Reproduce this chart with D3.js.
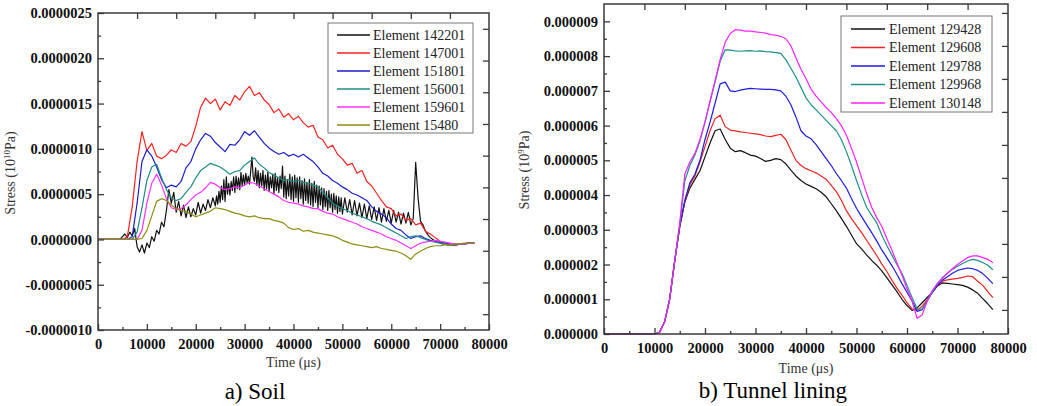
<!DOCTYPE html>
<meta charset="utf-8">
<style>
 body { margin: 0; background: #fff; }
 text { font-family: "Liberation Serif", "Times New Roman", serif; }
</style>
<body>
<svg></svg>
<script src="https://cdn.jsdelivr.net/npm/d3@7"></script>
<script>

// ---- DATA ---------------------------------------------------------------

// a) Soil : sample times (us) and stress in units of 1e-7 (x 10^10 Pa)
var soilTime = d3.range(0, 78000, 1000);        // 0 .. 77000
// black trace is sampled denser, finest in the noisy middle part
var soilTimeFine = d3.range(0, 24000, 500)
    .concat(d3.range(24000, 50000, 250))
    .concat(d3.range(50000, 77500, 500));

var soilNames = ["Element 142201", "Element 147001", "Element 151801",
                 "Element 156001", "Element 159601", "Element 15480"];

var soil142201 = [
  0,0,0,0,0,0,0,0,0,0,
  0.3,0.6,0.2,0.8,0.4,1.2,-0.8,-1.4,-0.6,-1.5,
  -0.4,-0.9,0.3,-0.2,1.0,0.6,1.9,1.4,3.2,5.5,
  4.0,5.2,3.0,4.2,2.6,3.8,2.4,3.6,2.5,3.4,
  2.7,4.1,2.9,3.9,3.2,4.4,3.5,4.6,
  // 24000 .. 49750 every 250
  3.7,4.8,3.9,5.3, 4.1,5.9,4.4,6.6, 4.2,6.9,5.0,6.2, 4.9,6.4,5.4,6.9,
  5.2,7.0,5.6,6.8, 5.5,7.4,5.9,7.1, 6.0,7.3,6.2,7.0, 6.1,7.6,9.1,6.9,
  6.4,7.9,6.0,7.6, 5.7,7.3,5.9,7.6, 5.4,7.1,5.6,7.4, 5.3,6.9,5.7,7.2,
  5.0,7.3,5.4,6.8, 5.2,7.0,5.6,8.1, 4.7,7.0,4.5,6.6, 4.8,7.2,4.4,6.9,
  4.2,7.1,4.6,6.8, 4.1,6.9,4.5,6.5, 3.9,6.7,4.3,6.3, 4.0,6.6,3.8,6.2,
  3.6,6.4,4.1,6.0, 3.5,5.9,3.8,5.7, 3.3,5.6,3.6,5.3, 3.2,5.4,3.5,5.0,
  3.0,5.1,3.3,4.8, 2.9,4.7,3.1,4.6,
  // 50000 .. 77000 every 500
  2.8,4.6,3.0,4.4,2.7,4.3,2.6,4.0,2.4,3.9,
  2.3,3.7,2.2,3.6,2.1,3.5,1.9,3.4,2.0,3.2,
  1.8,3.2,1.9,3.0,1.7,2.9,1.8,3.0,1.6,2.3,
  8.5,4.5,2.0,1.6,0.9,0.5,0.2,0.0,-0.2,-0.3,
  -0.4,-0.5,-0.5,-0.6,-0.6,-0.6,-0.6,-0.6,-0.5,-0.5,
  -0.5,-0.4,-0.4,-0.4,-0.4
];
var soil147001 = [
  0,0,0,0,0,0,0.3,3.6,8.6,11.9,
  9.8,10.6,9.2,8.9,9.3,9.9,9.6,10.6,10.3,10.8,
  12.5,14.6,15.6,15.0,15.5,14.3,15.2,14.8,15.9,15.4,
  16.3,16.9,15.9,16.2,15.4,14.9,14.0,14.4,13.5,13.9,
  13.2,13.6,12.9,12.4,12.6,11.3,11.0,10.1,10.4,9.4,
  8.9,8.2,8.4,7.3,7.6,6.4,5.9,5.1,4.3,3.6,
  3.4,2.6,2.8,2.1,2.3,1.6,1.8,0.9,0.6,0.2,
  -0.2,-0.4,-0.6,-0.6,-0.5,-0.5,-0.4,-0.4
];
var soil151801 = [
  0,0,0,0,0,0,0,0.3,4.0,8.6,
  9.9,9.2,8.0,6.6,5.7,6.0,5.8,6.4,7.9,8.6,
  10.0,11.0,11.7,11.4,10.7,10.2,9.7,10.5,10.4,11.0,
  11.9,11.5,12.0,11.3,10.6,10.1,9.7,9.4,9.6,9.2,
  9.4,9.1,9.4,9.0,8.6,8.0,7.3,7.0,6.5,6.2,
  5.8,5.5,5.1,4.9,4.6,4.3,3.6,3.1,2.8,2.4,
  1.7,1.2,1.0,0.5,0.1,0.3,0.4,0.1,-0.1,-0.2,
  -0.3,-0.4,-0.5,-0.6,-0.5,-0.5,-0.4,-0.4
];
var soil156001 = [
  0,0,0,0,0,0,0,0,0.8,3.5,
  6.5,8.0,8.3,6.8,5.5,4.6,4.3,4.5,5.2,5.8,
  6.8,7.6,8.0,8.4,8.2,8.0,7.6,7.2,7.5,7.6,
  8.2,8.6,9.0,8.3,7.9,7.4,7.1,6.8,6.5,6.6,
  6.4,6.5,6.3,6.2,6.0,5.8,5.2,4.6,4.0,3.7,
  3.4,3.2,2.9,2.7,2.5,2.3,2.0,1.8,1.6,1.3,
  1.0,0.7,0.4,0.1,0.3,0.4,0.2,0.0,-0.2,-0.3,
  -0.4,-0.5,-0.6,-0.6,-0.5,-0.5,-0.4,-0.4
];
var soil159601 = [
  0,0,0,0,0,0,0,0,0,1.0,
  4.0,6.2,7.2,6.0,4.5,3.5,3.3,3.4,3.8,4.4,
  4.9,5.2,5.7,6.3,6.1,5.7,5.5,5.6,5.8,5.7,
  6.0,6.3,6.2,5.9,5.6,5.3,5.0,4.7,4.3,4.1,
  4.0,3.9,3.7,3.6,3.4,3.4,3.1,2.9,2.8,2.5,
  2.3,2.1,1.9,1.7,1.4,1.2,1.0,0.8,0.6,0.3,
  0.1,-0.1,-0.4,-0.7,-1.0,-0.7,-0.4,-0.3,-0.2,-0.1,
  -0.2,-0.3,-0.4,-0.5,-0.5,-0.5,-0.4,-0.4
];
var soil15480 = [
  0,0,0,0,0,0,0,0,0,0.1,
  1.0,2.6,4.2,4.5,4.3,3.8,3.4,3.2,3.1,2.8,
  2.5,2.7,2.9,3.1,3.5,3.4,3.3,3.1,2.9,2.8,
  2.6,2.5,2.6,2.4,2.3,2.3,2.1,2.0,1.8,1.3,
  1.1,1.2,0.9,1.0,0.8,0.7,0.6,0.5,0.4,0.2,
  -0.1,-0.3,-0.5,-0.6,-0.7,-0.8,-0.9,-0.8,-1.0,-1.1,
  -1.2,-1.3,-1.5,-1.8,-2.2,-1.6,-1.3,-1.0,-0.8,-0.7,
  -0.7,-0.6,-0.6,-0.5,-0.5,-0.4,-0.4,-0.4
];

// b) Tunnel lining : stress in units of 1e-6 (x 10^9 Pa)
var liningTime = d3.range(0, 78000, 1000);

var liningNames = ["Element 129428", "Element 129608", "Element 129788",
                   "Element 129968", "Element 130148"];

var lining129428 = [
  0,0,0,0,0,0,0,0,0,0,
  0,0.05,0.35,1.0,2.1,3.1,3.8,4.2,4.45,4.7,
  5.1,5.5,5.85,5.9,5.6,5.35,5.25,5.28,5.22,5.15,
  5.12,5.05,4.97,5.0,5.05,5.02,4.9,4.72,4.55,4.42,
  4.32,4.25,4.18,4.08,3.95,3.75,3.55,3.33,3.1,2.85,
  2.6,2.45,2.28,2.12,1.98,1.82,1.62,1.42,1.22,1.0,
  0.82,0.68,0.75,0.9,1.05,1.2,1.38,1.47,1.46,1.44,
  1.42,1.4,1.35,1.27,1.17,1.02,0.87,0.7
];
var lining129608 = [
  0,0,0,0,0,0,0,0,0,0,
  0,0.05,0.35,1.0,2.1,3.1,3.8,4.3,4.55,4.95,
  5.4,5.85,6.2,6.3,5.97,5.87,5.85,5.82,5.8,5.78,
  5.76,5.74,5.7,5.68,5.72,5.75,5.6,5.3,5.0,4.85,
  4.76,4.7,4.64,4.55,4.45,4.28,4.1,3.85,3.55,3.32,
  3.12,2.92,2.7,2.48,2.26,2.02,1.8,1.55,1.32,1.12,
  0.9,0.72,0.68,0.8,0.98,1.2,1.4,1.52,1.56,1.58,
  1.6,1.63,1.67,1.65,1.52,1.4,1.22,1.05
];
var lining129788 = [
  0,0,0,0,0,0,0,0,0,0,
  0,0.05,0.35,1.0,2.1,3.1,3.85,4.35,4.6,5.0,
  5.6,6.1,6.65,7.2,7.25,7.0,6.98,7.02,7.05,7.07,
  7.06,7.05,7.04,7.04,7.03,7.0,6.85,6.6,6.25,5.85,
  5.7,5.62,5.45,5.25,5.05,4.85,4.62,4.42,4.2,3.9,
  3.62,3.38,3.15,2.92,2.68,2.42,2.2,1.97,1.72,1.45,
  1.2,0.95,0.65,0.7,0.95,1.2,1.4,1.55,1.65,1.75,
  1.83,1.87,1.9,1.88,1.83,1.74,1.6,1.45
];
var lining129968 = [
  0,0,0,0,0,0,0,0,0,0,
  0,0.05,0.35,1.0,2.1,3.15,4.4,4.85,5.15,5.55,
  6.1,6.7,7.25,7.85,8.18,8.17,8.15,8.14,8.15,8.16,
  8.14,8.15,8.13,8.12,8.1,8.08,7.9,7.65,7.4,7.1,
  6.8,6.6,6.45,6.3,6.15,6.0,5.85,5.6,5.25,4.85,
  4.42,4.02,3.65,3.42,3.2,2.85,2.55,2.27,2.0,1.75,
  1.4,1.05,0.72,0.72,0.95,1.2,1.45,1.62,1.75,1.86,
  1.95,2.03,2.1,2.15,2.12,2.06,1.98,1.85
];
var lining130148 = [
  0,0,0,0,0,0,0,0,0,0,
  0,0.05,0.35,1.0,2.1,3.2,4.6,4.95,5.2,5.6,
  6.1,6.7,7.3,7.9,8.4,8.65,8.76,8.75,8.72,8.72,
  8.7,8.68,8.66,8.62,8.6,8.57,8.5,8.3,7.95,7.62,
  7.35,7.05,6.85,6.68,6.52,6.38,6.2,6.0,5.72,5.35,
  4.95,4.5,4.05,3.65,3.35,3.1,2.75,2.42,2.05,1.7,
  1.3,0.95,0.45,0.55,0.95,1.25,1.45,1.6,1.75,1.88,
  2.0,2.1,2.2,2.25,2.25,2.2,2.15,2.05
];

// tick labels
var xTicks = [0, 10000, 20000, 30000, 40000, 50000, 60000, 70000, 80000];
var soilYTicks = [-10, -5, 0, 5, 10, 15, 20, 25];          // x 1e-7
var liningYTicks = [0, 1, 2, 3, 4, 5, 6, 7, 8, 9];          // x 1e-6


// ---- SETUP --------------------------------------------------------------

var width = 1037, height = 406;
var svg = d3.select("svg")
    .attr("width", width)
    .attr("height", height)
    .style("display", "block");

svg.append("rect").attr("width", width).attr("height", height).attr("fill", "#fff");

var colors6 = ["#111111", "#ff2020", "#1c1ccc", "#1f8c86", "#ff30ff", "#8c8c10"];
var colors5 = ["#111111", "#ee2222", "#1c1ce0", "#1f8f8a", "#ff20ff"];

function zip(t, v) {
  var n = Math.min(t.length, v.length), out = [];
  for (var i = 0; i < n; i++) out.push([t[i], v[i]]);
  return out;
}


// ---- DRAWING ------------------------------------------------------------

function drawPanel(p)
{
  var x = d3.scaleLinear().domain([0, 80000]).range([p.left, p.right]);
  var y = d3.scaleLinear().domain(p.yDomain).range([p.bottom, p.top]);
  // the opposite (top / right) axes carry their own unlabelled ticks
  var frac = d3.scaleLinear().domain([0, 1]).range([p.bottom, p.top]);

  var g = svg.append("g");

  // traces
  var line = d3.line().x(function(d){ return x(d[0]); }).y(function(d){ return y(d[1]); });
  p.series.forEach(function(s, i) {
    g.append("path")
     .attr("d", line(zip(s.t, s.v)))
     .attr("fill", "none")
     .attr("stroke", p.colors[i])
     .attr("stroke-width", 1.2)
     .attr("stroke-linejoin", "round");
  });

  var tickColor = "#3a3a3a";

  // bottom axis
  var xMinor = d3.range(5000, 80000, 10000);
  g.append("g").attr("transform", "translate(0," + p.bottom + ")")
   .call(d3.axisBottom(x).tickValues(xMinor).tickSize(-3).tickFormat(""));
  g.append("g").attr("transform", "translate(0," + p.bottom + ")")
   .call(d3.axisBottom(x).tickValues(xTicks).tickSize(-6).tickPadding(9)
         .tickFormat(d3.format("d")));

  // left axis
  g.append("g").attr("transform", "translate(" + p.left + ",0)")
   .call(d3.axisLeft(y).tickValues(p.yMinor).tickSize(-3).tickFormat(""));
  g.append("g").attr("transform", "translate(" + p.left + ",0)")
   .call(d3.axisLeft(y).tickValues(p.yTicks).tickSize(-6).tickPadding(6)
         .tickFormat(function(d){ return (d * p.unit).toFixed(p.dec); }));

  // top axis
  g.append("g").attr("transform", "translate(0," + p.top + ")")
   .call(d3.axisTop(x).tickValues(d3.range(8000, 80000, 8000)).tickSize(-6).tickFormat(""));

  // right axis
  g.append("g").attr("transform", "translate(" + p.right + ",0)")
   .call(d3.axisRight(frac).tickValues(d3.range(10).map(function(k){ return k / 10 + p.rightOffset; }))
         .tickSize(-6).tickFormat(""));

  g.selectAll(".domain").remove();
  g.selectAll(".tick line").attr("stroke", tickColor).attr("stroke-width", 1.3);
  g.selectAll(".tick text")
   .attr("font-family", "'Liberation Serif', 'Times New Roman', serif")
   .attr("font-size", "14.5px")
   .attr("font-weight", "bold")
   .attr("fill", "#111");

  // frame
  g.append("rect")
   .attr("x", p.left).attr("y", p.top)
   .attr("width", p.right - p.left).attr("height", p.bottom - p.top)
   .attr("fill", "none").attr("stroke", tickColor).attr("stroke-width", 1.5);

  // axis titles
  g.append("text")
   .attr("x", (p.left + p.right) / 2).attr("y", p.xTitleY)
   .attr("text-anchor", "middle").attr("font-size", "14px").attr("fill", "#333")
   .text("Time (\u03bcs)");

  var yt = g.append("text")
   .attr("transform", "translate(" + p.yTitleX + "," + p.yTitleY + ") rotate(-90)")
   .attr("text-anchor", "middle").attr("font-size", "14px").attr("fill", "#333");
  yt.append("tspan").text("Stress (10");
  yt.append("tspan").attr("font-size", "9px").attr("dy", -5).text(p.exp);
  yt.append("tspan").attr("dy", 5).text("Pa)");

  // legend
  var lg = g.append("g");
  lg.append("rect")
    .attr("x", p.legend.x).attr("y", p.legend.y)
    .attr("width", p.legend.w).attr("height", p.legend.h)
    .attr("fill", "#fff").attr("stroke", "#777").attr("stroke-width", 1);
  p.names.forEach(function(name, i) {
    var ly = p.legend.first + i * p.legend.step;
    lg.append("line")
      .attr("x1", p.legend.x1).attr("x2", p.legend.x2)
      .attr("y1", ly).attr("y2", ly)
      .attr("stroke", p.colors[i]).attr("stroke-width", 1.4);
    lg.append("text")
      .attr("x", p.legend.tx).attr("y", ly).attr("dy", "0.35em")
      .attr("font-size", "14px").attr("fill", "#222")
      .text(name);
  });

  // caption
  g.append("text")
   .attr("x", p.captionX).attr("y", p.captionY)
   .attr("text-anchor", "middle").attr("font-size", "23px").attr("fill", "#000")
   .text(p.caption);
}


drawPanel({
  left: 98, right: 489, top: 13, bottom: 330,
  yDomain: [-10, 25], unit: 1e-7, dec: 7,
  yTicks: soilYTicks, yMinor: d3.range(-7.5, 25, 5),
  rightOffset: 0.05,
  colors: colors6, names: soilNames,
  series: [
    { t: soilTimeFine, v: soil142201 },
    { t: soilTime, v: soil147001 },
    { t: soilTime, v: soil151801 },
    { t: soilTime, v: soil156001 },
    { t: soilTime, v: soil159601 },
    { t: soilTime, v: soil15480 }
  ],
  xTitleY: 367, yTitleX: 15, yTitleY: 173, exp: "10",
  legend: { x: 328, y: 23, w: 145, h: 110, first: 35, step: 18, x1: 337, x2: 370, tx: 373 },
  caption: "a) Soil", captionX: 255, captionY: 399
});

drawPanel({
  left: 604, right: 1008, top: 4, bottom: 334,
  yDomain: [0, 9.5], unit: 1e-6, dec: 6,
  yTicks: liningYTicks, yMinor: d3.range(0.5, 9.5, 1),
  rightOffset: 0.073,
  colors: colors5, names: liningNames,
  series: [
    { t: liningTime, v: lining129428 },
    { t: liningTime, v: lining129608 },
    { t: liningTime, v: lining129788 },
    { t: liningTime, v: lining129968 },
    { t: liningTime, v: lining130148 }
  ],
  xTitleY: 373, yTitleX: 529, yTitleY: 170, exp: "9",
  legend: { x: 841, y: 16, w: 151, h: 96, first: 29, step: 18.5, x1: 851, x2: 885, tx: 889 },
  caption: "b) Tunnel lining", captionX: 773, captionY: 398
});

</script>
</body>
